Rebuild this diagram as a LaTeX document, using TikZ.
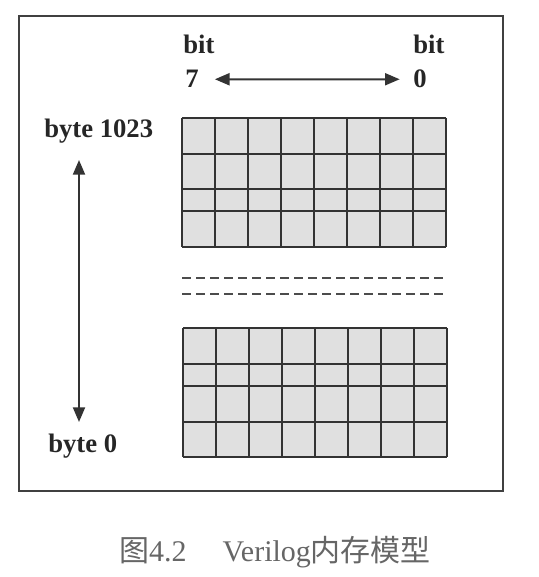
\documentclass[tikz,border=0pt]{standalone}
\usepackage{fontspec}
\setmainfont{Liberation Serif}
\newfontfamily\cjk{Noto Sans CJK SC}
\usetikzlibrary{arrows.meta}
\tikzstyle{label} = [font=\fontsize{20}{24}\selectfont\bfseries, text=black!85, inner sep=0pt]
\tikzstyle{caption} = [font=\fontsize{22.5}{26}\selectfont, text=black!60, inner sep=0pt]
\tikzstyle{arrow} = [line width=1.5pt, draw=black!80, fill=black!80, {Triangle[length=11pt,width=9pt]}-{Triangle[length=11pt,width=9pt]}]
\tikzstyle{cell} = [line width=1.4pt, draw=black!80]
\tikzstyle{frame} = [line width=1.5pt, draw=black!75]
\tikzstyle{gap} = [line width=0.9pt, draw=black!70, dash pattern=on 6.5pt off 4pt]

\begin{document}
\begin{tikzpicture}[x=0.75pt,y=-0.75pt]
                \useasboundingbox (0,0) rectangle (538,577);
                \draw [frame] (19,16) rectangle (503,491);

                % Grids
                \fill [black!12] (182,118) rectangle (446,247);
                \foreach \x in {182,215,...,446} \draw [cell] (\x,118) -- (\x,247);
                \foreach \y in {118,154,189,211,247} \draw [cell] (182,\y) -- (446,\y);
                \fill [black!12] (183,328) rectangle (447,457);
                \foreach \x in {183,216,...,447} \draw [cell] (\x,328) -- (\x,457);
                \foreach \y in {328,364,386,422,457} \draw [cell] (183,\y) -- (447,\y);
                \draw [gap] (182,278) -- (446,278);
                \draw [gap] (182,294) -- (446,294);

                % Nodes
                \node (bit7) [label, anchor=base west] at (183,54) {bit};
                \node (seven) [label, anchor=base west] at (185,88) {7};
                \node (bit0) [label, anchor=base west] at (413,54) {bit};
                \node (zero) [label, anchor=base west] at (413,88) {0};
                \node (byte1023) [label, anchor=base west] at (44,138) {byte 1023};
                \node (byte0) [label, anchor=base west] at (48,452) {byte 0};
                \coordinate (hi) at (79,160);
                \coordinate (lo) at (79,422);
                \node (title) [caption] at (275,552) {{\cjk 图}4.2\hspace{1.2em}Verilog{\cjk 内存模型}};

                % Arrows
                \draw [arrow, shorten <=12pt, shorten >=10pt] (seven) -- (zero);
                \draw [arrow] (hi) -- (lo);
            \end{tikzpicture}
\end{document}
